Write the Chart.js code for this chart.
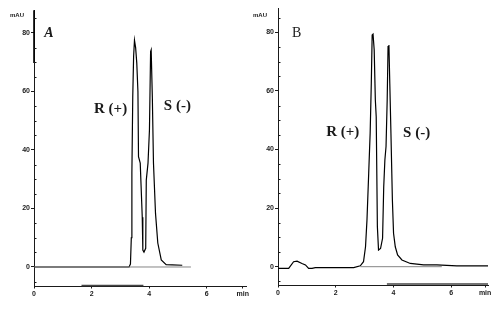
<!DOCTYPE html>
<html>
<head>
<meta charset="utf-8">
<script src="https://cdn.jsdelivr.net/npm/chart.js@4.4.1/dist/chart.umd.min.js"></script>
<style>
  html, body { margin: 0; padding: 0; background: #fff; }
  #wrap { position: relative; width: 500px; height: 309px; background: #fff; }
  .panel { position: absolute; top: 0; width: 250px; height: 309px; }
</style>
</head>
<body>
<div id="wrap">
  <div class="panel" style="left:0"><canvas id="chartA"></canvas></div>
  <div class="panel" style="left:250px"><canvas id="chartB"></canvas></div>
</div>
<script>
// ---------------- DATA ----------------
const xTickValues = [0, 2, 4, 6];
const yTickValues = [0, 20, 40, 60, 80];
const yUnit = 'mAU';
const xUnit = 'min';

// Panel A chromatogram
const A_time   = [0, 3.30, 3.35, 3.38, 3.40, 3.43, 3.46, 3.49, 3.53, 3.57, 3.61, 3.63, 3.69, 3.76, 3.78, 3.82, 3.88, 3.90, 3.96, 4.01, 4.05, 4.07, 4.11, 4.15, 4.22, 4.30, 4.42, 4.59, 4.80, 5.15];
const A_signal = [0, 0,    1,    10,   32,   58,   72,   77.5, 75,   69.7, 60,   37.7, 35.5, 17,   5.8,  5.1,  6.4,  29.7, 35.5, 46.8, 73.6, 74.2, 58.2, 35.5, 18.4, 8.2,  2.4,  0.8,  0.7,  0.6];
const A_baseTime   = [0, 5.45];
const A_baseSignal = [0, 0];
const A_frontTime   = [0, 0];
const A_frontSignal = [69.7, 87.8];
const A_lowTime   = [1.65, 3.80];
const A_lowSignal = [-6.35, -6.35];

// Panel B chromatogram
const B_time   = [0, 0.37, 0.54, 0.66, 0.83, 0.95, 1.06, 1.18, 1.29, 2.62, 2.85, 2.96, 3.03, 3.08, 3.14, 3.19, 3.23, 3.26, 3.29, 3.33, 3.37, 3.40, 3.44, 3.48, 3.55, 3.62, 3.66, 3.70, 3.74, 3.78, 3.81, 3.84, 3.87, 3.91, 3.96, 4.00, 4.06, 4.14, 4.29, 4.58, 5.04, 5.50, 6.19, 7.27];
const B_signal = [-0.6, -0.6, 1.7, 1.9, 1.1, 0.6, -0.6, -0.6, -0.3, -0.3, 0.3, 1.7, 6.8, 15.9, 31.9, 45.5, 62.6, 79.1, 79.4, 74, 56.9, 51.2, 13.7, 5.7, 6.2, 9.7, 27.3, 36.4, 41, 56.9, 75.1, 75.7, 62.6, 45.5, 22.8, 11.4, 6.8, 4, 2.3, 1.1, 0.6, 0.6, 0.3, 0.3];
const B_baseTime   = [2.85, 5.67];
const B_baseSignal = [0, 0];
const B_lowTime   = [3.77, 7.27];
const B_lowSignal = [-5.9, -5.9];

// Text labels (text + data position)
const A_labels = [
  { text: 'A',     t: 0.52, v: 80.0, font: 'italic bold 14px "Liberation Serif"' },
  { text: 'R (+)', t: 2.66, v: 54.0, font: 'bold 15px "Liberation Serif"' },
  { text: 'S (-)', t: 4.98, v: 55.0, font: 'bold 15px "Liberation Serif"' }
];
const B_labels = [
  { text: 'B',     t: 0.65, v: 79.6, font: '14px "Liberation Serif"' },
  { text: 'R (+)', t: 2.24, v: 45.8, font: 'bold 15px "Liberation Serif"' },
  { text: 'S (-)', t: 4.80, v: 45.6, font: 'bold 15px "Liberation Serif"' }
];

// ---------------- helpers ----------------
const zip = (xs, ys) => xs.map((x, i) => ({ x: x, y: ys[i] }));
const INK = '#1a1a1a';

const annotPlugin = {
  id: 'annot',
  afterDatasetsDraw(chart, args, opts) {
    const { ctx, scales: { x, y }, chartArea } = chart;
    ctx.save();
    ctx.fillStyle = INK;
    ctx.textAlign = 'center';
    ctx.textBaseline = 'middle';
    (opts.items || []).forEach(it => {
      ctx.font = it.font;
      ctx.fillText(it.text, x.getPixelForValue(it.t), y.getPixelForValue(it.v));
    });
    // unit label
    ctx.font = 'bold 6px "Liberation Sans"';
    ctx.fillText(yUnit, chartArea.left + opts.unitDx, chartArea.top + opts.unitDy);
    // minor y ticks (inside)
    ctx.strokeStyle = INK;
    ctx.lineWidth = 1;
    for (let v = -5; v <= 85; v += 5) {
      if (v % 20 === 0) continue;
      const py = Math.round(y.getPixelForValue(v)) + 0.5;
      if (py < chartArea.top || py > chartArea.bottom) continue;
      ctx.beginPath();
      ctx.moveTo(chartArea.left, py);
      ctx.lineTo(chartArea.left + 2.5, py);
      ctx.stroke();
    }
    ctx.restore();
  }
};

function makeChart(id, cfg) {
  const datasets = [
    { data: zip(cfg.baseT, cfg.baseV), borderColor: '#777', borderWidth: 0.9 },
    { data: zip(cfg.lowT, cfg.lowV), borderColor: '#444', borderWidth: 1.4 },
    { data: zip(cfg.t, cfg.v), borderColor: '#000', borderWidth: 1.2 }
  ].concat(cfg.extra || []).map(d => Object.assign({
    showLine: true, pointRadius: 0, fill: false, tension: 0, clip: 6
  }, d));

  return new Chart(document.getElementById(id), {
    type: 'scatter',
    data: { datasets: datasets },
    options: {
      responsive: true,
      maintainAspectRatio: false,
      animation: false,
      devicePixelRatio: 1,
      events: [],
      layout: { padding: { top: cfg.padTop, right: cfg.padRight, left: 0, bottom: 0 } },
      plugins: {
        legend: { display: false },
        tooltip: { enabled: false },
        annot: { items: cfg.labels, unitDx: cfg.unitDx, unitDy: cfg.unitDy }
      },
      scales: {
        x: {
          type: 'linear',
          min: 0, max: cfg.xMax,
          afterBuildTicks: s => { s.ticks = xTickValues.concat([cfg.unitTick]).map(v => ({ value: v })); },
          afterFit: s => { s.height = cfg.xHeight; },
          ticks: {
            autoSkip: false, maxRotation: 0, padding: 1,
            color: INK,
            font: { family: 'Liberation Sans', size: 7, weight: 'bold' },
            callback: v => (v > 6.5 ? xUnit : String(v))
          },
          grid: { drawOnChartArea: false, tickLength: 2.5, color: INK, lineWidth: 1 },
          border: { display: true, color: INK, width: 1 }
        },
        y: {
          type: 'linear',
          min: cfg.yMin, max: cfg.yMax,
          afterBuildTicks: s => { s.ticks = yTickValues.map(v => ({ value: v })); },
          afterFit: s => { s.width = cfg.yWidth; },
          ticks: {
            padding: 1,
            color: INK,
            font: { family: 'Liberation Sans', size: 7, weight: 'bold' }
          },
          grid: { drawOnChartArea: false, tickLength: 3, color: INK, lineWidth: 1 },
          border: { display: true, color: INK, width: 1 }
        }
      }
    },
    plugins: [annotPlugin]
  });
}

makeChart('chartA', {
  t: A_time, v: A_signal, baseT: A_baseTime, baseV: A_baseSignal,
  lowT: A_lowTime, lowV: A_lowSignal, labels: A_labels,
  extra: [{ data: zip(A_frontTime, A_frontSignal), borderColor: '#000', borderWidth: 1.6 }],
  yWidth: 34, xHeight: 23, padTop: 10, padRight: 3,
  yMin: -6.5, yMax: 87.86, xMax: 7.37, unitTick: 7.25,
  unitDx: -17, unitDy: 5
});

makeChart('chartB', {
  t: B_time, v: B_signal, baseT: B_baseTime, baseV: B_baseSignal,
  lowT: B_lowTime, lowV: B_lowSignal, labels: B_labels,
  yWidth: 28, xHeight: 24, padTop: 8, padRight: 12,
  yMin: -6.25, yMax: 88.3, xMax: 7.27, unitTick: 7.17,
  unitDx: -18, unitDy: 7
});
</script>
</body>
</html>
